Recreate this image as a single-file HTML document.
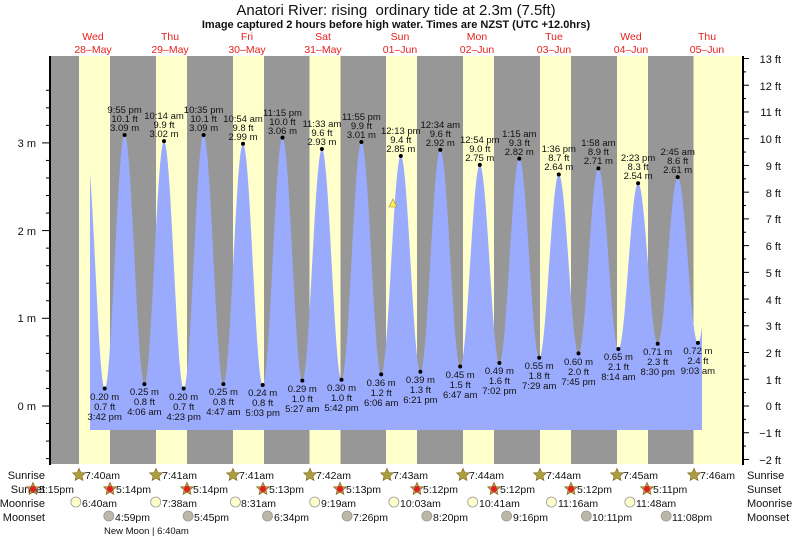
<!DOCTYPE html>
<html><head><meta charset="utf-8"><style>
html,body{margin:0;padding:0;background:#fff;}
svg{display:block;font-family:"Liberation Sans",sans-serif;}
.l{font-size:9.5px;fill:#111;text-anchor:middle}
.d{font-size:10.5px;fill:#e8201c;text-anchor:middle}
.b{font-size:10.5px;fill:#111}
</style></head><body>
<svg id="s" width="793" height="537" viewBox="0 0 793 537" xmlns="http://www.w3.org/2000/svg">
<rect x="0" y="0" width="793" height="537" fill="#fff"/>
<text x="396" y="15" font-size="15" text-anchor="middle" fill="#111">Anatori River: rising&#160; ordinary tide at 2.3m (7.5ft)</text>
<text x="396" y="28" font-size="11" font-weight="bold" text-anchor="middle" fill="#111">Image captured 2 hours before high water. Times are NZST (UTC +12.0hrs)</text>
<g class="d">
<text x="93" y="40">Wed</text><text x="93" y="53">28–May</text>
<text x="170" y="40">Thu</text><text x="170" y="53">29–May</text>
<text x="247" y="40">Fri</text><text x="247" y="53">30–May</text>
<text x="323" y="40">Sat</text><text x="323" y="53">31–May</text>
<text x="400" y="40">Sun</text><text x="400" y="53">01–Jun</text>
<text x="477" y="40">Mon</text><text x="477" y="53">02–Jun</text>
<text x="554" y="40">Tue</text><text x="554" y="53">03–Jun</text>
<text x="631" y="40">Wed</text><text x="631" y="53">04–Jun</text>
<text x="707" y="40">Thu</text><text x="707" y="53">05–Jun</text>
</g>
<rect x="50" y="56" width="693" height="408" fill="#979797"/>
<g fill="#ffffcc">
<rect x="79" y="56" width="31" height="408"/><rect x="156" y="56" width="31" height="408"/>
<rect x="233" y="56" width="31" height="408"/><rect x="309.5" y="56" width="31" height="408"/>
<rect x="386" y="56" width="31" height="408"/><rect x="463" y="56" width="31" height="408"/>
<rect x="540" y="56" width="31" height="408"/><rect x="617" y="56" width="31" height="408"/>
<rect x="693.5" y="56" width="49.5" height="408"/>
</g>
<path id="tide" fill="#9aabfd" d=""/>
<polygon points="393,199 389,207 397,207" fill="#ffee44" stroke="#886" stroke-width="0.6"/>
<g id="dots" fill="#000"></g>
<g class="l">
<text x="124.6" y="113">9:55 pm</text><text x="124.6" y="122">10.1 ft</text><text x="124.6" y="131">3.09 m</text>
<text x="164" y="119">10:14 am</text><text x="164" y="128">9.9 ft</text><text x="164" y="137">3.02 m</text>
<text x="203.6" y="113">10:35 pm</text><text x="203.6" y="122">10.1 ft</text><text x="203.6" y="131">3.09 m</text>
<text x="243" y="122">10:54 am</text><text x="243" y="131">9.8 ft</text><text x="243" y="140">2.99 m</text>
<text x="282.5" y="116">11:15 pm</text><text x="282.5" y="125">10.0 ft</text><text x="282.5" y="134">3.06 m</text>
<text x="321.9" y="127">11:33 am</text><text x="321.9" y="136">9.6 ft</text><text x="321.9" y="145">2.93 m</text>
<text x="361.4" y="120">11:55 pm</text><text x="361.4" y="129">9.9 ft</text><text x="361.4" y="138">3.01 m</text>
<text x="400.8" y="134">12:13 pm</text><text x="400.8" y="143">9.4 ft</text><text x="400.8" y="152">2.85 m</text>
<text x="440.3" y="128">12:34 am</text><text x="440.3" y="137">9.6 ft</text><text x="440.3" y="146">2.92 m</text>
<text x="479.8" y="143">12:54 pm</text><text x="479.8" y="152">9.0 ft</text><text x="479.8" y="161">2.75 m</text>
<text x="519.3" y="137">1:15 am</text><text x="519.3" y="146">9.3 ft</text><text x="519.3" y="155">2.82 m</text>
<text x="558.8" y="152">1:36 pm</text><text x="558.8" y="161">8.7 ft</text><text x="558.8" y="170">2.64 m</text>
<text x="598.4" y="146">1:58 am</text><text x="598.4" y="155">8.9 ft</text><text x="598.4" y="164">2.71 m</text>
<text x="638.1" y="161">2:23 pm</text><text x="638.1" y="170">8.3 ft</text><text x="638.1" y="179">2.54 m</text>
<text x="677.7" y="155">2:45 am</text><text x="677.7" y="164">8.6 ft</text><text x="677.7" y="173">2.61 m</text>

<text x="104.7" y="400">0.20 m</text><text x="104.7" y="410">0.7 ft</text><text x="104.7" y="420">3:42 pm</text>
<text x="144.4" y="395">0.25 m</text><text x="144.4" y="405">0.8 ft</text><text x="144.4" y="415">4:06 am</text>
<text x="183.7" y="400">0.20 m</text><text x="183.7" y="410">0.7 ft</text><text x="183.7" y="420">4:23 pm</text>
<text x="223.4" y="395">0.25 m</text><text x="223.4" y="405">0.8 ft</text><text x="223.4" y="415">4:47 am</text>
<text x="262.7" y="396">0.24 m</text><text x="262.7" y="406">0.8 ft</text><text x="262.7" y="416">5:03 pm</text>
<text x="302.3" y="392">0.29 m</text><text x="302.3" y="402">1.0 ft</text><text x="302.3" y="412">5:27 am</text>
<text x="341.5" y="391">0.30 m</text><text x="341.5" y="401">1.0 ft</text><text x="341.5" y="411">5:42 pm</text>
<text x="381.2" y="386">0.36 m</text><text x="381.2" y="396">1.2 ft</text><text x="381.2" y="406">6:06 am</text>
<text x="420.4" y="383">0.39 m</text><text x="420.4" y="393">1.3 ft</text><text x="420.4" y="403">6:21 pm</text>
<text x="460.2" y="378">0.45 m</text><text x="460.2" y="388">1.5 ft</text><text x="460.2" y="398">6:47 am</text>
<text x="499.4" y="374">0.49 m</text><text x="499.4" y="384">1.6 ft</text><text x="499.4" y="394">7:02 pm</text>
<text x="539.2" y="369">0.55 m</text><text x="539.2" y="379">1.8 ft</text><text x="539.2" y="389">7:29 am</text>
<text x="578.5" y="365">0.60 m</text><text x="578.5" y="375">2.0 ft</text><text x="578.5" y="385">7:45 pm</text>
<text x="618.4" y="360">0.65 m</text><text x="618.4" y="370">2.1 ft</text><text x="618.4" y="380">8:14 am</text>
<text x="657.7" y="355">0.71 m</text><text x="657.7" y="365">2.3 ft</text><text x="657.7" y="375">8:30 pm</text>
<text x="697.9" y="354">0.72 m</text><text x="697.9" y="364">2.4 ft</text><text x="697.9" y="374">9:03 am</text>
</g>
<line x1="50" y1="56" x2="50" y2="465" stroke="#000" stroke-width="2"/>
<line x1="743" y1="56" x2="743" y2="465" stroke="#000" stroke-width="2"/>
<g id="ticks" stroke="#000" stroke-width="1"></g>
<g font-size="11" fill="#111" text-anchor="end">
<text x="36" y="147">3 m</text><text x="36" y="235">2 m</text><text x="36" y="322">1 m</text><text x="36" y="410">0 m</text>
<text x="781" y="63">13 ft</text><text x="781" y="90">12 ft</text><text x="781" y="116">11 ft</text><text x="781" y="143">10 ft</text>
<text x="781" y="170">9 ft</text><text x="781" y="197">8 ft</text><text x="781" y="223">7 ft</text><text x="781" y="250">6 ft</text>
<text x="781" y="277">5 ft</text><text x="781" y="304">4 ft</text><text x="781" y="330">3 ft</text><text x="781" y="357">2 ft</text>
<text x="781" y="384">1 ft</text><text x="781" y="410">0 ft</text><text x="781" y="437">−1 ft</text><text x="781" y="464">−2 ft</text>
</g>
<g font-size="11" fill="#111">
<text x="45" y="479" text-anchor="end">Sunrise</text>
<text x="45" y="493" text-anchor="end">Sunset</text>
<text x="45" y="507" text-anchor="end">Moonrise</text>
<text x="45" y="521" text-anchor="end">Moonset</text>
<text x="747" y="479">Sunrise</text><text x="747" y="493">Sunset</text>
<text x="747" y="507">Moonrise</text><text x="747" y="521">Moonset</text>
</g>
<g id="icons"></g>
<g class="b">
<text x="85" y="479">7:40am</text><text x="162" y="479">7:41am</text><text x="239" y="479">7:41am</text>
<text x="316" y="479">7:42am</text><text x="393" y="479">7:43am</text><text x="469" y="479">7:44am</text>
<text x="546" y="479">7:44am</text><text x="623" y="479">7:45am</text><text x="700" y="479">7:46am</text>
<text x="39" y="493">5:15pm</text><text x="116" y="493">5:14pm</text><text x="193" y="493">5:14pm</text>
<text x="269" y="493">5:13pm</text><text x="346" y="493">5:13pm</text><text x="423" y="493">5:12pm</text>
<text x="500" y="493">5:12pm</text><text x="577" y="493">5:12pm</text><text x="653" y="493">5:11pm</text>
<text x="82" y="507">6:40am</text><text x="162" y="507">7:38am</text><text x="241" y="507">8:31am</text>
<text x="321" y="507">9:19am</text><text x="400" y="507">10:03am</text><text x="479" y="507">10:41am</text>
<text x="558" y="507">11:16am</text><text x="636" y="507">11:48am</text>
<text x="115" y="521">4:59pm</text><text x="194" y="521">5:45pm</text><text x="274" y="521">6:34pm</text>
<text x="353" y="521">7:26pm</text><text x="433" y="521">8:20pm</text><text x="513" y="521">9:16pm</text>
<text x="592" y="521">10:11pm</text><text x="672" y="521">11:08pm</text>
<text x="104" y="534" font-size="9.5">New Moon | 6:40am</text>
</g>
</svg>
<script>
(function(){
var NS="http://www.w3.org/2000/svg";
function Y(m){return 406-m*87.7;}
var ex=[[86,2.95],[104.7,.20],[124.6,3.09],[144.4,.25],[164,3.02],[183.7,.20],[203.6,3.09],[223.4,.25],[243,2.99],[262.7,.24],[282.5,3.06],[302.3,.29],[321.9,2.93],[341.5,.30],[361.4,3.01],[381.2,.36],[400.8,2.85],[420.4,.39],[440.3,2.92],[460.2,.45],[479.8,2.75],[499.4,.49],[519.3,2.82],[539.2,.55],[558.8,2.64],[578.5,.60],[598.4,2.71],[618.4,.65],[638.1,2.54],[657.7,.71],[677.7,2.61],[697.9,.72],[717.5,2.5]];
function v(x){for(var i=0;i<ex.length-1;i++){var a=ex[i],b=ex[i+1];if(x>=a[0]&&x<=b[0]){var t=(x-a[0])/(b[0]-a[0]);return a[1]+(b[1]-a[1])*(1-Math.cos(Math.PI*t))/2;}}return 0;}
var d="M90,430";for(var x=90;x<=702;x+=0.5){d+=" L"+x+","+Y(v(x)).toFixed(1);}d+=" L702,430 Z";
document.getElementById("tide").setAttribute("d",d);
var g=document.getElementById("dots");
for(var i=1;i<ex.length-1;i++){var c=document.createElementNS(NS,"circle");c.setAttribute("cx",ex[i][0]);c.setAttribute("cy",Y(ex[i][1]));c.setAttribute("r",2);g.appendChild(c);}
var tk=document.getElementById("ticks");
function ln(x1,y1,x2,y2){var l=document.createElementNS(NS,"line");l.setAttribute("x1",x1);l.setAttribute("y1",y1);l.setAttribute("x2",x2);l.setAttribute("y2",y2);tk.appendChild(l);}
for(var k=-3;k<=18;k++){var y=406-k*0.2*87.7;if(y<56||y>464)continue;ln(k%5==0?42:46,y,50,y);}
for(var k=-4;k<=26;k++){var y=406-k*0.5*26.73;if(y<56||y>464)continue;ln(743,y,k%2==0?749:746,y);}
var ic=document.getElementById("icons");
function star(cx,cy,fill,inner){var p="";for(var j=0;j<10;j++){var r=j%2?3:6.5,a=-Math.PI/2+j*Math.PI/5;p+=(cx+r*Math.cos(a)).toFixed(1)+","+(cy+r*Math.sin(a)).toFixed(1)+" ";}
var s=document.createElementNS(NS,"polygon");s.setAttribute("points",p);s.setAttribute("fill",fill);s.setAttribute("stroke","#8a6a20");s.setAttribute("stroke-width","0.8");ic.appendChild(s);
var c=document.createElementNS(NS,"circle");c.setAttribute("cx",cx);c.setAttribute("cy",cy);c.setAttribute("r",3);c.setAttribute("fill",inner);ic.appendChild(c);}
function circ(cx,cy,fill){var c=document.createElementNS(NS,"circle");c.setAttribute("cx",cx);c.setAttribute("cy",cy);c.setAttribute("r",5);c.setAttribute("fill",fill);c.setAttribute("stroke","#999");c.setAttribute("stroke-width","0.8");ic.appendChild(c);}
[79,156,233,310,387,463,540,617,694].forEach(function(x){star(x,475,"#b8a838","#a8a040");});
[33,110,187,263,340,417,494,571,647].forEach(function(x){star(x,489,"#c8a048","#e02020");});
[75.8,155.7,235.4,314.7,393.9,472.7,551.4,629.9].forEach(function(x){circ(x,502,"#ffffcc");});
[108.8,188.1,267.5,347.1,426.8,506.6,586.3,666.1].forEach(function(x){circ(x,516,"#bbb8a8");});
})();
</script>
</body></html>
